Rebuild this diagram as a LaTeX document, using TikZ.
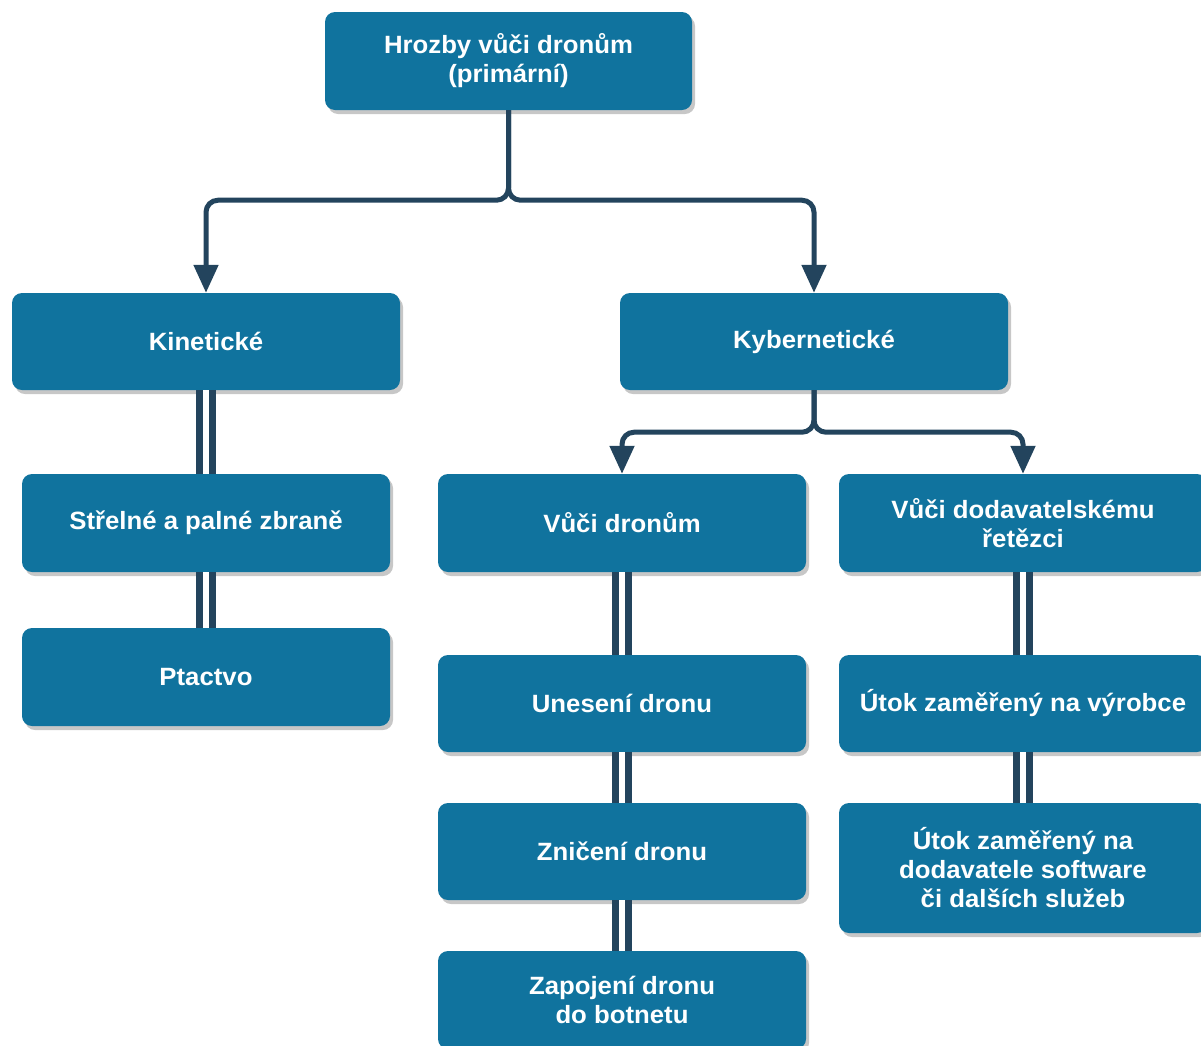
\documentclass[tikz,border=0pt]{standalone}
\usepackage{fontspec}
\setmainfont{Liberation Sans}[FakeStretch=1.03]
\usetikzlibrary{arrows.meta,shadows}
\definecolor{boxblue}{HTML}{10739E}
\definecolor{linedark}{HTML}{23445D}
\begin{document}
\begin{tikzpicture}[x=1pt,y=-1pt,
  box/.style={fill=boxblue, rounded corners=10pt, text=white, align=center,
    inner sep=0pt, minimum width=368pt, minimum height=98pt,
    font=\bfseries\fontsize{25}{29}\selectfont,
    general shadow={fill=black, opacity=0.22, shadow xshift=3pt, shadow yshift=-4pt}},
  conn/.style={draw=linedark, line width=5pt, rounded corners=12pt,
    -{Triangle[length=28pt,width=24pt]}},
  dbl/.style={draw=linedark, line width=7pt, double=white, double distance=6pt}]
\useasboundingbox (0,0) rectangle (1201,1045);
\clip (0,0) rectangle (1201,1045);

\node[box, minimum width=367pt] (top) at (508.5,61) {Hrozby vůči dronům\\(primární)};
\node[box, minimum width=388pt, minimum height=97pt] (kin) at (206,341.5) {Kinetické};
\node[box, minimum width=388pt, minimum height=97pt] (kyb) at (814,341.5) {Kybernetické};
\node[box] (str) at (206,523) {Střelné a palné zbraně};
\node[box] (pta) at (206,677) {Ptactvo};
\node[box] (vd) at (622,523) {Vůči dronům};
\node[box] (dod) at (1023,523) {Vůči dodavatelskému\\řetězci};
\node[box, minimum height=97pt] (une) at (622,703.5) {Unesení dronu};
\node[box, minimum height=97pt] (vyr) at (1023,703.5) {Útok zaměřený na výrobce};
\node[box, minimum height=97pt] (zni) at (622,851.5) {Zničení dronu};
\node[box, minimum height=130pt] (sw) at (1023,868) {Útok zaměřený na\\dodavatele software\\či dalších služeb};
\node[box] (bot) at (622,1000) {Zapojení dronu\\do botnetu};

\draw[conn] (top.south) -- ++(0,90) -| (kin.north);
\draw[conn] (top.south) -- ++(0,90) -| (kyb.north);
\draw[conn] (kyb.south) -- ++(0,42) -| (vd.north);
\draw[conn] (kyb.south) -- ++(0,42) -| (dod.north);

\draw[dbl] (kin.south) -- (str.north);
\draw[dbl] (str.south) -- (pta.north);
\draw[dbl] (vd.south) -- (une.north);
\draw[dbl] (une.south) -- (zni.north);
\draw[dbl] (zni.south) -- (bot.north);
\draw[dbl] (dod.south) -- (vyr.north);
\draw[dbl] (vyr.south) -- (sw.north);
\end{tikzpicture}
\end{document}
